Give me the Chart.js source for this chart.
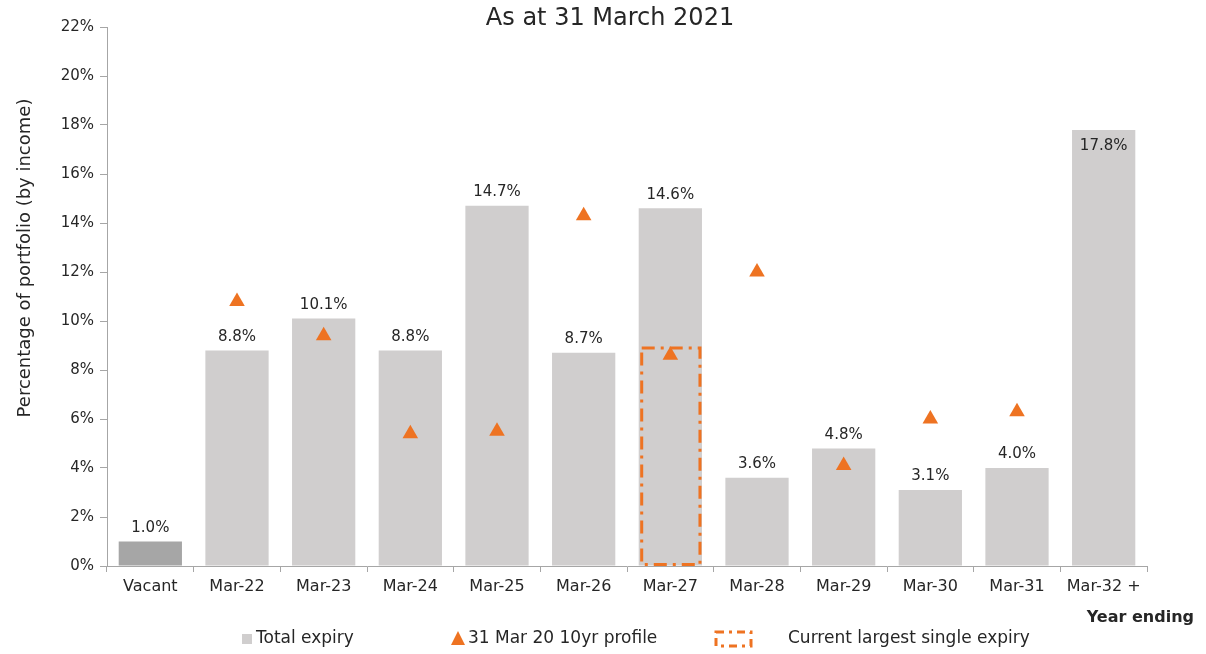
<!DOCTYPE html>
<html>
<head>
<meta charset="utf-8">
<script src="https://cdn.jsdelivr.net/npm/chart.js@4/dist/chart.umd.min.js"></script>
<style>
  html, body { margin: 0; padding: 0; background: #fff; }
  #wrap { width: 1206px; height: 654px; position: relative; }
</style>
</head>
<body>
<div id="wrap"><canvas id="expiryChart" width="1206" height="654"></canvas></div>
<script>
// Chart data
const categories = ['Vacant', 'Mar-22', 'Mar-23', 'Mar-24', 'Mar-25', 'Mar-26', 'Mar-27', 'Mar-28', 'Mar-29', 'Mar-30', 'Mar-31', 'Mar-32 +'];
const totalExpiry = [1.0, 8.8, 10.1, 8.8, 14.7, 8.7, 14.6, 3.6, 4.8, 3.1, 4.0, 17.8];
const profile2020 = [null, 10.8, 9.4, 5.4, 5.5, 14.3, 8.6, 12.0, 4.1, 6.0, 6.3, null];
const largestSingle = [null, null, null, null, null, null, 8.9, null, null, null, null, null];
const yTicks = [0, 2, 4, 6, 8, 10, 12, 14, 16, 18, 20, 22];

const ORANGE = '#EE7322';
const GREY = '#D0CECE';
const DARK_GREY = '#A6A6A6';
const FONT = "'DejaVu Sans', sans-serif";
const TEXT = '#262626';

// Value labels above (or inside) the grey bars
const barLabels = {
    id: 'barLabels',
    afterDatasetsDraw(chart) {
        const ctx = chart.ctx;
        const meta = chart.getDatasetMeta(0);
        ctx.save();
        ctx.font = '15px ' + FONT;
        ctx.fillStyle = TEXT;
        ctx.textAlign = 'center';
        meta.data.forEach((bar, i) => {
            const v = totalExpiry[i];
            const label = v.toFixed(1) + '%';
            if (v > 17) {
                ctx.textBaseline = 'top';
                ctx.fillText(label, bar.x, bar.y + 9);
            } else {
                ctx.textBaseline = 'bottom';
                ctx.fillText(label, bar.x, bar.y - 6);
            }
        });
        ctx.restore();
    }
};

// Dash-dot outline for the largest single expiry
const dashedBox = {
    id: 'dashedBox',
    afterDatasetsDraw(chart) {
        const ctx = chart.ctx;
        const meta = chart.getDatasetMeta(1);
        ctx.save();
        ctx.strokeStyle = ORANGE;
        ctx.lineWidth = 3;
        ctx.setLineDash([13, 6, 3, 6]);
        meta.data.forEach((bar, i) => {
            if (largestSingle[i] == null) return;
            const p = bar.getProps(['x', 'y', 'base', 'width'], true);
            ctx.strokeRect(p.x - p.width / 2 + 3, p.y, p.width - 5, p.base - p.y - 1);
        });
        ctx.restore();
    }
};

// Title, y title, axis caption and legend
const decorations = {
    id: 'decorations',
    afterDraw(chart) {
        const ctx = chart.ctx;
        ctx.save();
        ctx.fillStyle = TEXT;
        ctx.textBaseline = 'middle';

        ctx.font = '24px ' + FONT;
        ctx.textAlign = 'center';
        ctx.fillText('As at 31 March 2021', 610, 19);

        ctx.save();
        ctx.translate(25, 258);
        ctx.rotate(-Math.PI / 2);
        ctx.font = '18px ' + FONT;
        ctx.fillText('Percentage of portfolio (by income)', 0, 0);
        ctx.restore();

        ctx.font = 'bold 16px ' + FONT;
        ctx.textAlign = 'right';
        ctx.fillText('Year ending', 1194, 618);

        // legend
        const ly = 639;
        ctx.font = '17px ' + FONT;
        ctx.textAlign = 'left';
        ctx.fillStyle = GREY;
        ctx.fillRect(242, ly - 5, 10, 10);
        ctx.fillStyle = TEXT;
        ctx.fillText('Total expiry', 256, ly);

        ctx.fillStyle = ORANGE;
        ctx.beginPath();
        ctx.moveTo(458, ly - 8);
        ctx.lineTo(465, ly + 6);
        ctx.lineTo(451, ly + 6);
        ctx.closePath();
        ctx.fill();
        ctx.fillStyle = TEXT;
        ctx.fillText('31 Mar 20 10yr profile', 468, ly);

        ctx.strokeStyle = ORANGE;
        ctx.lineWidth = 3;
        ctx.setLineDash([8, 5, 3, 5]);
        ctx.strokeRect(716, ly - 7, 35, 14);
        ctx.setLineDash([]);
        ctx.fillText('Current largest single expiry', 788, ly);
        ctx.restore();
    }
};

const chart = new Chart(document.getElementById('expiryChart'), {
    data: {
        labels: categories,
        datasets: [
            {
                type: 'bar',
                label: 'Total expiry',
                data: totalExpiry,
                backgroundColor: categories.map((c, i) => i === 0 ? DARK_GREY : GREY),
                barPercentage: 0.73,
                categoryPercentage: 1,
                order: 3
            },
            {
                type: 'bar',
                label: 'Current largest single expiry',
                data: largestSingle,
                backgroundColor: 'rgba(0,0,0,0)',
                barPercentage: 0.73,
                categoryPercentage: 1,
                order: 2
            },
            {
                type: 'line',
                label: '31 Mar 20 10yr profile',
                data: profile2020,
                showLine: false,
                pointStyle: 'triangle',
                pointRadius: 9,
                pointHoverRadius: 9,
                backgroundColor: ORANGE,
                borderColor: ORANGE,
                borderWidth: 0,
                order: 1
            }
        ]
    },
    options: {
        responsive: false,
        animation: false,
        datasets: { bar: { grouped: false } },
        layout: { padding: { top: 27, right: 59, bottom: 48, left: 0 } },
        plugins: {
            legend: { display: false },
            title: { display: false },
            tooltip: { enabled: false }
        },
        scales: {
            x: {
                grid: { drawOnChartArea: false, drawTicks: true, tickLength: 6, color: DARK_GREY, offset: true },
                border: { color: DARK_GREY, width: 1 },
                ticks: { color: TEXT, font: { family: FONT, size: 16 }, padding: 5, maxRotation: 0, autoSkip: false },
                afterFit(scale) { scale.height = 40; }
            },
            y: {
                min: 0,
                max: 22,
                afterBuildTicks(scale) { scale.ticks = yTicks.map(v => ({ value: v })); },
                grid: { drawOnChartArea: false, drawTicks: true, tickLength: 7, color: DARK_GREY },
                border: { color: DARK_GREY, width: 1 },
                ticks: {
                    color: TEXT,
                    font: { family: FONT, size: 15 },
                    padding: 6,
                    callback: v => v + '%'
                },
                afterFit(scale) { scale.width = 107; }
            }
        }
    },
    plugins: [barLabels, dashedBox, decorations]
});
</script>
</body>
</html>
